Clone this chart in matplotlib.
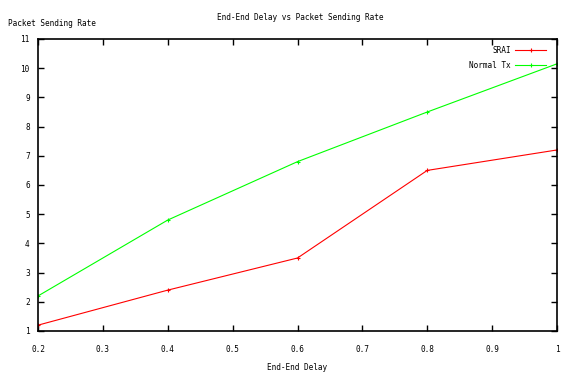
import matplotlib
matplotlib.use("Agg")
import matplotlib.pyplot as plt

delay = [0.2, 0.4, 0.6, 0.8, 1.0]
srai = [1.2, 2.4, 3.5, 6.5, 7.2]
normal_tx = [2.2, 4.8, 6.8, 8.5, 10.15]
xticks = [0.2, 0.3, 0.4, 0.5, 0.6, 0.7, 0.8, 0.9, 1.0]
xticklabels = ["0.2", "0.3", "0.4", "0.5", "0.6", "0.7", "0.8", "0.9", "1"]
yticks = list(range(1, 12))

plt.rcParams['font.family'] = ['DejaVu Sans Mono']
fs = 5.6

fig = plt.figure(figsize=(5.72, 3.72), dpi=100)
ax = fig.add_axes([38/572, 41/372, (557-38)/572, (331-39)/372])

ax.plot(delay, srai, color='#ff0000', lw=0.8, marker='+', ms=3.5, mew=0.8, label='SRAI')
ax.plot(delay, normal_tx, color='#00ff00', lw=0.8, marker='+', ms=3.5, mew=0.8, label='Normal Tx')

ax.set_xlim(0.2, 1.0)
ax.set_ylim(1, 11)
ax.set_xticks(xticks)
ax.set_xticklabels(xticklabels)
ax.set_yticks(yticks)
ax.tick_params(direction='in', length=4, width=1, top=True, right=True,
               labelsize=fs, pad=10, colors='black')
ax.tick_params(axis='y', pad=6)
for s in ax.spines.values():
    s.set_linewidth(1.2)

fig.text(300/572, 1 - 17/372, 'End-End Delay vs Packet Sending Rate', ha='center', va='center', fontsize=fs)
fig.text(8/572, 1 - 24/372, 'Packet Sending Rate', ha='left', va='center', fontsize=fs)
fig.text(297/572, 1 - 367/372, 'End-End Delay', ha='center', va='center', fontsize=fs)

ax.legend(loc='upper right', frameon=False, markerfirst=False, fontsize=fs,
          handlelength=4.0, handletextpad=0.6, borderaxespad=0.3, labelspacing=0.75,
          bbox_to_anchor=(0.99, 0.995))

fig.savefig('out.png', dpi=100)
